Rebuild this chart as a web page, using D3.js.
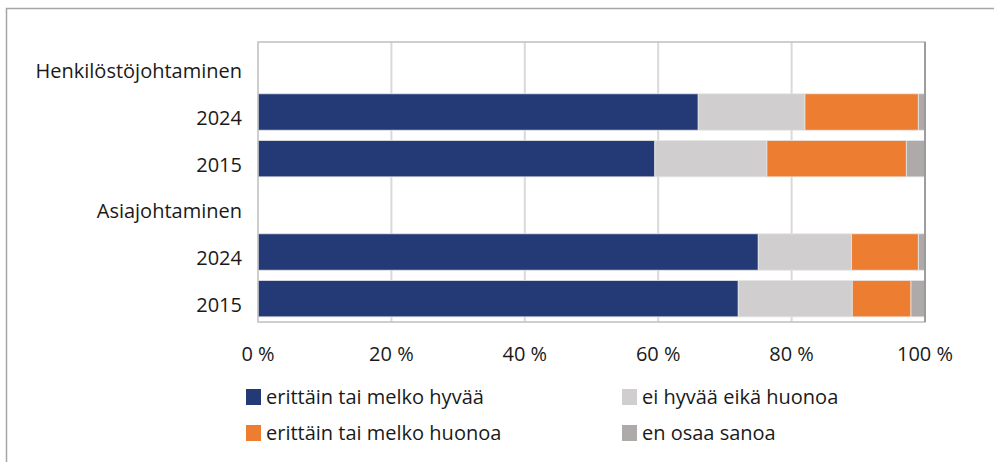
<!DOCTYPE html>
<html>
<head>
<meta charset="utf-8">
<script src="https://cdn.jsdelivr.net/npm/d3@7"></script>
<style>
  body { margin: 0; background: #fff; }
  svg text { font-family: "Open Sans", "Noto Sans", sans-serif; fill: #1a1a1a; }
</style>
</head>
<body>
<div id="chart"></div>
<script>
// rows top to bottom; group headings have no bars
const rows = ["Henkilöstöjohtaminen", "H2024", "H2015", "Asiajohtaminen", "A2024", "A2015"];
const rowLabels = ["Henkilöstöjohtaminen", "2024", "2015", "Asiajohtaminen", "2024", "2015"];
const barRows = ["H2024", "H2015", "A2024", "A2015"];

const seriesNames = ["erittäin tai melko hyvää", "ei hyvää eikä huonoa", "erittäin tai melko huonoa", "en osaa sanoa"];
const seriesColors = ["#233a77", "#d0cecf", "#ed7d31", "#aeaaa9"];

const good    = [66, 59.5, 75, 72];
const neutral = [16, 16.8, 14, 17.1];
const bad     = [17, 20.9, 10, 8.8];
const dontKnow = [1, 2.8, 1, 2.1];

const xTicks = [0, 20, 40, 60, 80, 100];

const width = 994, height = 462;
const plot = {left: 258, right: 925, top: 42, bottom: 322};
const FONT = 20;

const svg = d3.select("#chart").append("svg")
    .attr("width", width)
    .attr("height", height);

// outer frame
svg.append("rect")
    .attr("x", 6.5).attr("y", 8.5)
    .attr("width", width + 10).attr("height", height + 10)
    .attr("fill", "none")
    .attr("stroke", "#a6a6a6")
    .attr("stroke-width", 1.5);

const x = d3.scaleLinear().domain([0, 100]).range([plot.left, plot.right]);
const y = d3.scaleBand().domain(rows).range([plot.top, plot.bottom]).paddingInner(0.22).paddingOuter(0.11);

// gridlines
svg.append("g")
    .selectAll("line")
    .data(xTicks.slice(1, -1))
    .enter()
    .append("line")
    .attr("x1", d => x(d)).attr("x2", d => x(d))
    .attr("y1", plot.top).attr("y2", plot.bottom)
    .attr("stroke", "#d9d9d9")
    .attr("stroke-width", 2);

// stacked bars
const table = barRows.map((r, i) => ({row: r, s0: good[i], s1: neutral[i], s2: bad[i], s3: dontKnow[i]}));
const stacked = d3.stack().keys(["s0", "s1", "s2", "s3"])(table);

svg.append("g")
    .selectAll("g")
    .data(stacked)
    .enter()
    .append("g")
    .attr("fill", (d, i) => seriesColors[i])
    .selectAll("rect")
    .data(d => d)
    .enter()
    .append("rect")
    .attr("x", d => x(d[0]))
    .attr("y", d => y(d.data.row))
    .attr("width", d => x(d[1]) - x(d[0]))
    .attr("height", y.bandwidth())
    .attr("stroke", "#e6e6e6")
    .attr("stroke-width", 0.8);

// plot border
svg.append("rect")
    .attr("x", plot.left).attr("y", plot.top)
    .attr("width", plot.right - plot.left).attr("height", plot.bottom - plot.top)
    .attr("fill", "none")
    .attr("stroke", "#bfbfbf")
    .attr("stroke-width", 1.5);
svg.append("line")
    .attr("x1", plot.right).attr("x2", plot.right)
    .attr("y1", plot.top).attr("y2", plot.bottom)
    .attr("stroke", "#8c8c8c").attr("stroke-width", 1.5);

// row labels (sit a bit below the band centre, like the original)
svg.append("g")
    .selectAll("text")
    .data(rows)
    .enter()
    .append("text")
    .attr("x", 242)
    .attr("y", d => y(d) + y.bandwidth() / 2 + 6)
    .attr("dy", "0.35em")
    .attr("text-anchor", "end")
    .attr("font-size", FONT)
    .text((d, i) => rowLabels[i]);

// x tick labels
svg.append("g")
    .selectAll("text")
    .data(xTicks)
    .enter()
    .append("text")
    .attr("x", d => x(d))
    .attr("y", 354)
    .attr("dy", "0.35em")
    .attr("text-anchor", "middle")
    .attr("font-size", FONT)
    .text(d => d + " %");

// legend
const legendPos = [[246, 397], [622, 397], [246, 433], [622, 433]];
const legend = svg.append("g")
    .selectAll("g")
    .data(seriesNames)
    .enter()
    .append("g")
    .attr("transform", (d, i) => `translate(${legendPos[i][0]}, ${legendPos[i][1]})`);

legend.append("rect")
    .attr("x", 0).attr("y", -8)
    .attr("width", 15).attr("height", 16)
    .attr("fill", (d, i) => seriesColors[i]);

legend.append("text")
    .attr("x", 20)
    .attr("dy", "0.35em")
    .attr("font-size", FONT)
    .text(d => d);
</script>
</body>
</html>
